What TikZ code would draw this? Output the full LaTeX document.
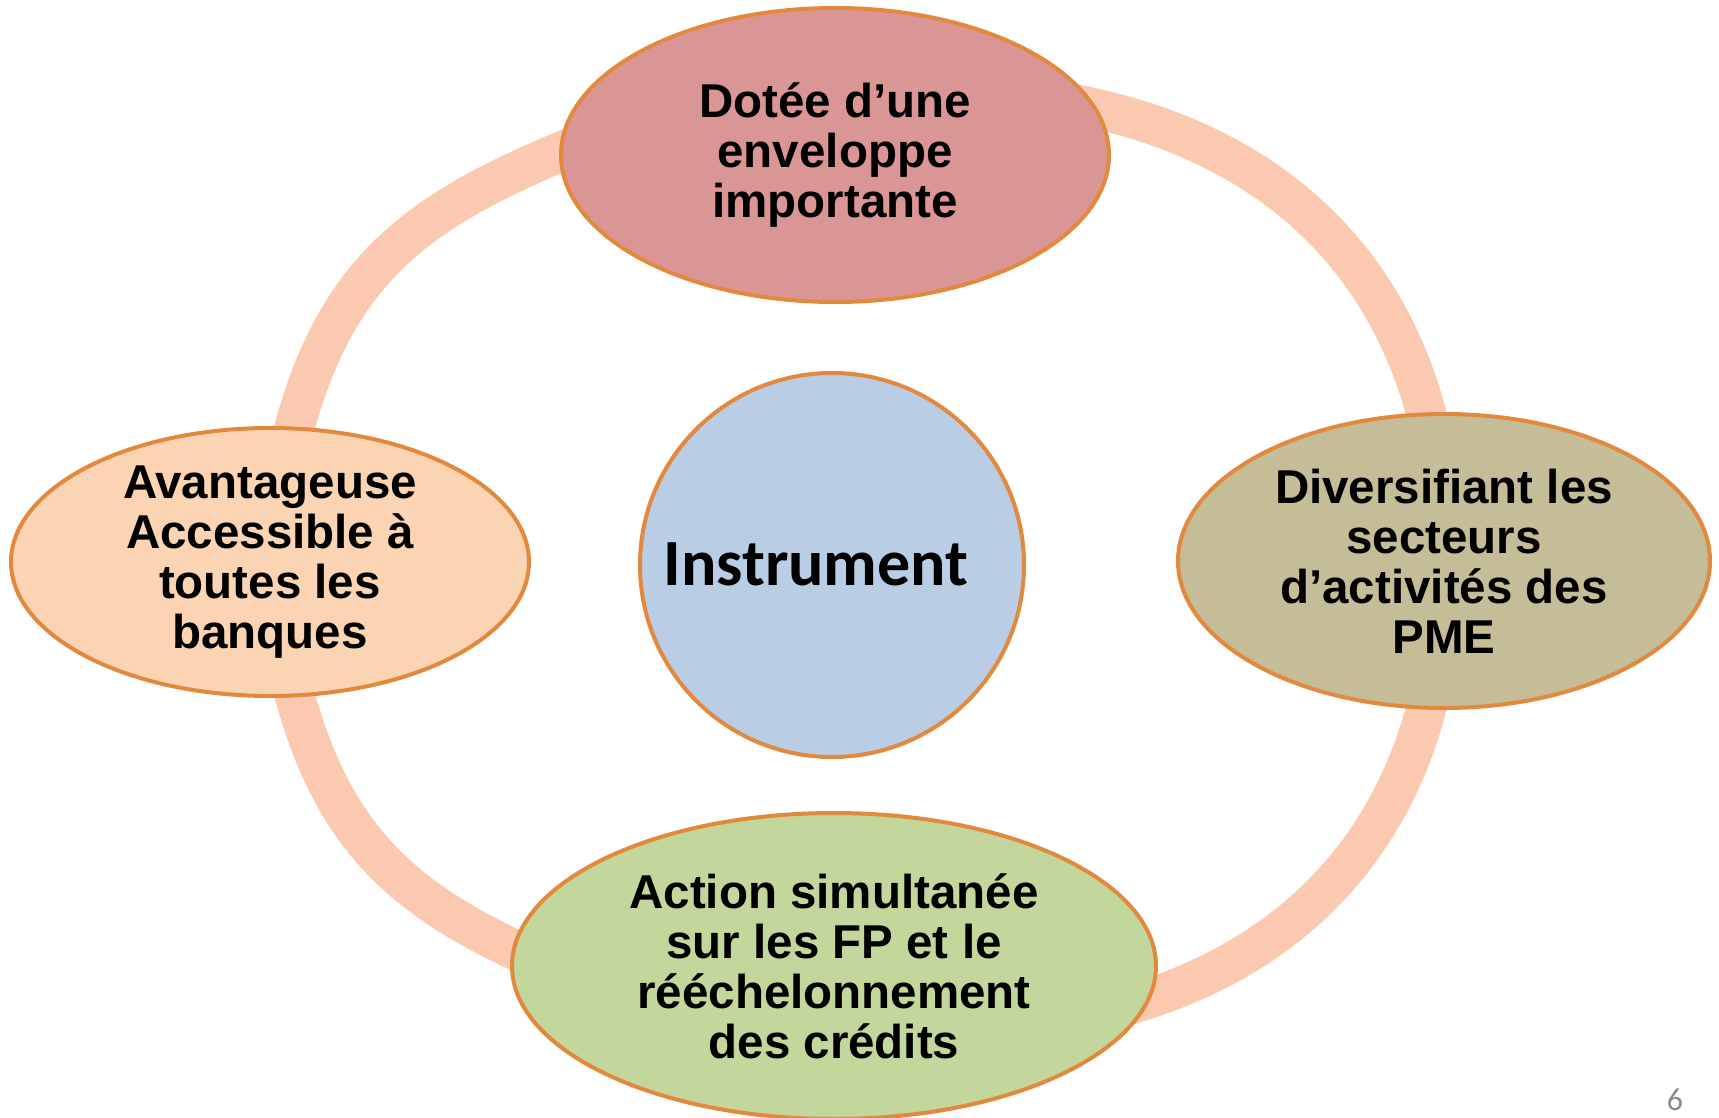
\documentclass[tikz,border=0pt]{standalone}
\usepackage{fontspec}
\setmainfont{Liberation Sans}
\newfontfamily\calibfont{Carlito}
\usetikzlibrary{shapes.geometric}
\definecolor{ringc}{HTML}{FAC9B0}
\definecolor{edgec}{HTML}{E2893E}
\definecolor{topc}{HTML}{D99694}
\definecolor{leftc}{HTML}{FBD4B4}
\definecolor{rightc}{HTML}{C4BD97}
\definecolor{botc}{HTML}{C3D69B}
\definecolor{midc}{HTML}{B9CDE5}
\definecolor{pagenum}{HTML}{8C8C8C}
\tikzset{
  bubble/.style={ellipse, draw=edgec, line width=4pt, inner sep=0pt},
  bubbletext/.style={align=center, inner sep=0pt, font=\fontsize{47.5}{50}\selectfont\bfseries},
  ring/.style={draw=ringc, line width=40pt},
}
\begin{document}
\begin{tikzpicture}[x=1pt,y=-1pt]
\useasboundingbox (0,0) rectangle (1719,1118);
% ring arcs (ends hidden under the bubbles)
\coordinate (tl0) at (620,128);  \coordinate (tl1) at (282,480);
\coordinate (tr0) at (1050,100); \coordinate (tr1) at (1438,470);
\coordinate (bl0) at (620,994);  \coordinate (bl1) at (282,642);
\coordinate (br0) at (1050,1022); \coordinate (br1) at (1438,652);
\draw[ring] (tl0) .. controls (415,207) and (326,264) .. (tl1);
\draw[ring] (tr0) .. controls (1261,132) and (1405.5,257) .. (tr1);
\draw[ring] (bl0) .. controls (415,915) and (326,858) .. (bl1);
\draw[ring] (br0) .. controls (1261,990) and (1405.5,865) .. (br1);
% bubbles
\node[bubble, fill=topc, minimum width=548pt, minimum height=294pt] (top) at (835,155) {};
\node[bubble, fill=leftc, minimum width=518pt, minimum height=268pt] (left) at (270,562) {};
\node[bubble, fill=rightc, minimum width=532pt, minimum height=294pt] (right) at (1444,561) {};
\node[bubble, fill=botc, minimum width=644pt, minimum height=306pt] (bot) at (834,966) {};
\node[circle, draw=edgec, line width=4pt, fill=midc, minimum size=384pt, inner sep=0pt] (mid) at (832,565) {};
% texts
\node[bubbletext] (toptext) at (top.center) {Dotée d’une\\enveloppe\\importante};
\node[bubbletext] (lefttext) at (left.center) {Avantageuse\\Accessible à\\toutes les\\banques};
\node[bubbletext] (righttext) at (right.center) {Diversifiant les\\secteurs\\d’activités des\\PME};
\node[bubbletext] (bottext) at (bot.center) {Action simultanée\\sur les FP et le\\rééchelonnement\\des crédits};
\node[inner sep=0pt, font=\calibfont\fontsize{66}{70}\selectfont\bfseries] (midtext) at (816,564) {Instrument};
\node[inner sep=0pt, text=pagenum, font=\calibfont\fontsize{32}{36}\selectfont] (pnum) at (1675,1100) {6};
\end{tikzpicture}
\end{document}
